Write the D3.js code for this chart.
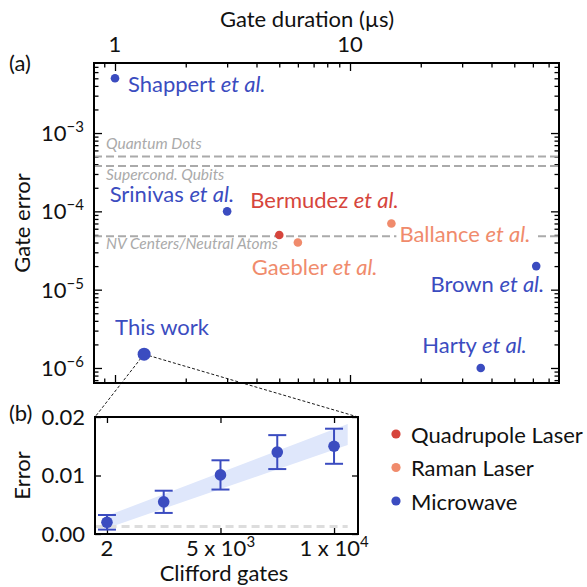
<!DOCTYPE html>
<html>
<head>
<meta charset="utf-8">
<script src="https://cdn.jsdelivr.net/npm/d3@7"></script>
<style>
  body { margin: 0; background: #fff; }
  svg { font-family: Lato, "Open Sans", sans-serif; display: block; }
  .frame { fill: none; stroke: #000; stroke-width: 2; }
  .axis path { display: none; }
  .axis line { stroke: #000; stroke-width: 1.3; }
</style>
</head>
<body>
<div id="chart"></div>
<script>
// --- data (panel a) ---
const studies = ['Shappert', 'Srinivas', 'Bermudez', 'Gaebler', 'Ballance', 'Brown', 'Harty'];
const gateDurations = [1.0, 3.0, 5.0, 6.0, 15, 62, 36];          // µs
const gateErrors = [5e-3, 1e-4, 5e-5, 4e-5, 7e-5, 2e-5, 1e-6];
const drives = ['Microwave', 'Microwave', 'Quadrupole Laser', 'Raman Laser', 'Raman Laser', 'Microwave', 'Microwave'];
const thisWorkDuration = 1.33;
const thisWorkError = 1.5e-6;
const platformNames = ['Quantum Dots', 'Supercond. Qubits', 'NV Centers/Neutral Atoms'];
const platformErrors = [5e-4, 3.8e-4, 4.8e-5];

// --- data (panel b) ---
const cliffordGates = [2, 2500, 5000, 7500, 10000];
const rbErrors = [0.002, 0.0055, 0.0101, 0.014, 0.015];
const rbErrorBars = [0.00125, 0.0019, 0.0025, 0.0029, 0.003];
const bandGates = [2, 10600];
const bandLow = [0.0010, 0.0152];
const bandHigh = [0.0031, 0.0188];
const floorError = 0.0013;

const legendNames = ['Quadrupole Laser', 'Raman Laser', 'Microwave'];
const legendColors = ['#d6453c', '#f08b6c', '#3b4cc0'];
const color = d3.scaleOrdinal().domain(legendNames).range(legendColors);

const W = 587, H = 587;
const FS = 22;      // main font size
const SUP = 15;     // superscript size
const svg = d3.select('#chart').append('svg').attr('width', W).attr('height', H);

// ================= PANEL (a) =================
const a = { left: 94, right: 559, top: 63, bottom: 383 };
const x = d3.scaleLog().domain([0.814, 77.5]).range([a.left, a.right]);
const y = d3.scaleLog().domain([6.43e-7, 7.84e-3]).range([a.bottom, a.top]);

const isPow10 = v => Math.abs(Math.log10(v) - Math.round(Math.log10(v))) < 1e-6;
const xMajor = [1, 10];
const xMinor = x.ticks().filter(v => !isPow10(v));
const yMajor = y.ticks().filter(isPow10);
const yMinor = y.ticks().filter(v => !isPow10(v));

function ticksOn(axisFn, scale, values, size, tx, ty) {
  svg.append('g').attr('class', 'axis')
    .attr('transform', `translate(${tx},${ty})`)
    .call(axisFn(scale).tickValues(values).tickSize(-size).tickFormat(''));
}
// inward ticks on all four sides
ticksOn(d3.axisTop, x, xMajor, 8, 0, a.top);
ticksOn(d3.axisTop, x, xMinor, 4.5, 0, a.top);
ticksOn(d3.axisBottom, x, xMajor, 8, 0, a.bottom);
ticksOn(d3.axisBottom, x, xMinor, 4.5, 0, a.bottom);
ticksOn(d3.axisLeft, y, yMajor, 8, a.left, 0);
ticksOn(d3.axisLeft, y, yMinor, 4.5, a.left, 0);
ticksOn(d3.axisRight, y, yMajor, 8, a.right, 0);
ticksOn(d3.axisRight, y, yMinor, 4.5, a.right, 0);

// tick labels
svg.append('g').selectAll('text').data(xMajor).join('text')
  .attr('x', d => x(d)).attr('y', 52).attr('text-anchor', 'middle')
  .attr('font-size', FS).attr('fill', '#111').text(d => d);

const yl = svg.append('g').selectAll('text').data(yMajor).join('text')
  .attr('x', 84).attr('y', d => y(d) + 8).attr('text-anchor', 'end')
  .attr('font-size', FS).attr('fill', '#111');
yl.append('tspan').text('10');
yl.append('tspan').attr('dy', -9).attr('font-size', SUP).text(d => '\u2212' + Math.round(-Math.log10(d)));

svg.append('text').attr('x', 307).attr('y', 27).attr('text-anchor', 'middle')
  .attr('font-size', FS).attr('fill', '#111').text('Gate duration (\u00b5s)');
svg.append('text').attr('transform', `translate(30,${(a.top + a.bottom) / 2}) rotate(-90)`)
  .attr('text-anchor', 'middle').attr('font-size', FS).attr('fill', '#111').text('Gate error');
svg.append('text').attr('x', 9).attr('y', 71).attr('font-size', FS).attr('fill', '#111').text('(a)');

// platform threshold lines
svg.append('g').selectAll('line').data(platformErrors).join('line')
  .attr('x1', a.left).attr('x2', a.right)
  .attr('y1', d => y(d)).attr('y2', d => y(d))
  .attr('stroke', '#aaa').attr('stroke-width', 2).attr('stroke-dasharray', '8,4');
const platformDy = [-8, 14, 13];
svg.append('g').selectAll('text').data(platformNames).join('text')
  .attr('x', 106).attr('y', (d, i) => y(platformErrors[i]) + platformDy[i])
  .attr('font-size', 15.5).attr('font-style', 'italic').attr('fill', '#aaa').text(d => d);

// study labels: [dx, dy, anchor]
const labelPlace = {
  Shappert: [13, 14, 'start'], Srinivas: [7, -9, 'end'], Bermudez: [-29, -27, 'start'],
  Gaebler: [-46, 32, 'start'], Ballance: [8, 19, 'start'], Brown: [8, 26, 'end'], Harty: [46, -15, 'end']
};
studies.forEach((s, i) => {
  const px = x(gateDurations[i]), py = y(gateErrors[i]);
  const [dx, dy, anchor] = labelPlace[s];
  const g = svg.append('g');
  const t = g.append('text').attr('x', px + dx).attr('y', py + dy).attr('text-anchor', anchor)
    .attr('font-size', FS).attr('fill', color(drives[i]));
  t.append('tspan').text(s + ' ');
  t.append('tspan').attr('font-style', 'italic').text('et al.');
  if (s === 'Ballance') {
    const bb = t.node().getBBox();
    g.insert('rect', 'text').attr('x', bb.x - 3).attr('y', bb.y).attr('width', bb.width + 7)
      .attr('height', bb.height).attr('fill', '#fff');
  }
});

// zoom connector lines to panel (b)
const b = { left: 95, right: 358, top: 417, bottom: 534 };
[b.left, b.right].forEach(cx => {
  svg.append('line').attr('x1', x(thisWorkDuration)).attr('y1', y(thisWorkError))
    .attr('x2', cx).attr('y2', b.top)
    .attr('stroke', '#000').attr('stroke-width', 0.9).attr('stroke-dasharray', '3,2');
});

svg.append('g').selectAll('circle').data(studies).join('circle')
  .attr('cx', (d, i) => x(gateDurations[i])).attr('cy', (d, i) => y(gateErrors[i]))
  .attr('r', 4.3).attr('fill', (d, i) => color(drives[i]));
svg.append('circle').attr('cx', x(thisWorkDuration)).attr('cy', y(thisWorkError))
  .attr('r', 6.5).attr('fill', color('Microwave'));
svg.append('text').attr('x', x(thisWorkDuration) - 29).attr('y', y(thisWorkError) - 19)
  .attr('font-size', FS).attr('fill', color('Microwave')).text('This work');

svg.append('rect').attr('class', 'frame').attr('x', a.left).attr('y', a.top)
  .attr('width', a.right - a.left).attr('height', a.bottom - a.top);

// ================= PANEL (b) =================
const xb = d3.scaleLinear().domain([-525, 11055]).range([b.left, b.right]);
const yb = d3.scaleLinear().domain([0, 0.02]).range([b.bottom, b.top]);
const xbTicks = [2, 5000, 10000];
const ybTicks = [0, 0.01, 0.02];

ticksOn(d3.axisTop, xb, xbTicks, 6, 0, b.top);
ticksOn(d3.axisBottom, xb, xbTicks, 6, 0, b.bottom);
ticksOn(d3.axisLeft, yb, ybTicks, 6, b.left, 0);
ticksOn(d3.axisRight, yb, ybTicks, 6, b.right, 0);

// fit band
const band = bandGates.map((g, i) => ({ g, lo: bandLow[i], hi: bandHigh[i] }));
svg.append('path').datum(band)
  .attr('d', d3.area().x(d => xb(d.g)).y0(d => yb(d.lo)).y1(d => yb(d.hi)))
  .attr('fill', '#dfe7fb');

svg.append('line').attr('x1', xb(-500)).attr('x2', xb(bandGates[1]))
  .attr('y1', yb(floorError)).attr('y2', yb(floorError))
  .attr('stroke', '#ddd').attr('stroke-width', 3).attr('stroke-dasharray', '8,5');

const pts = cliffordGates.map((g, i) => ({ g, e: rbErrors[i], s: rbErrorBars[i] }));
const eb = svg.append('g').attr('stroke', color('Microwave')).attr('stroke-width', 2);
pts.forEach(d => {
  const cx = xb(d.g);
  eb.append('line').attr('x1', cx).attr('x2', cx).attr('y1', yb(d.e - d.s)).attr('y2', yb(d.e + d.s));
  [d.e - d.s, d.e + d.s].forEach(v => {
    eb.append('line').attr('x1', cx - 9).attr('x2', cx + 9).attr('y1', yb(v)).attr('y2', yb(v));
  });
});
svg.append('g').selectAll('circle').data(pts).join('circle')
  .attr('cx', d => xb(d.g)).attr('cy', d => yb(d.e)).attr('r', 5.8).attr('fill', color('Microwave'));

svg.append('rect').attr('class', 'frame').attr('x', b.left).attr('y', b.top)
  .attr('width', b.right - b.left).attr('height', b.bottom - b.top);

// panel (b) tick labels
svg.append('g').selectAll('text').data(ybTicks).join('text')
  .attr('x', 85).attr('y', d => yb(d) + 7.5).attr('text-anchor', 'end')
  .attr('font-size', FS).attr('fill', '#111').text(d => d.toFixed(2));
const xbl = svg.append('g').selectAll('text').data(xbTicks).join('text')
  .attr('x', d => xb(d)).attr('y', 556).attr('text-anchor', 'middle')
  .attr('font-size', FS).attr('fill', '#111');
xbl.each(function (d) {
  const t = d3.select(this);
  if (d < 1000) { t.text(d); return; }
  const p = Math.floor(Math.log10(d));
  t.append('tspan').text(`${d / 10 ** p} x 10`);
  t.append('tspan').attr('dy', -9).attr('font-size', SUP).text(p);
});
svg.append('text').attr('x', 224).attr('y', 581).attr('text-anchor', 'middle')
  .attr('font-size', FS).attr('fill', '#111').text('Clifford gates');
svg.append('text').attr('transform', `translate(30,${(b.top + b.bottom) / 2}) rotate(-90)`)
  .attr('text-anchor', 'middle').attr('font-size', FS).attr('fill', '#111').text('Error');
svg.append('text').attr('x', 9).attr('y', 421).attr('font-size', FS).attr('fill', '#111').text('(b)');

// legend
const lg = svg.append('g').selectAll('g').data(legendNames).join('g')
  .attr('transform', (d, i) => `translate(396,${434 + i * 33.5})`);
lg.append('circle').attr('r', 4.6).attr('fill', d => color(d));
lg.append('text').attr('x', 15).attr('y', 8.5).attr('font-size', FS).attr('fill', '#111').text(d => d);
</script>
</body>
</html>
